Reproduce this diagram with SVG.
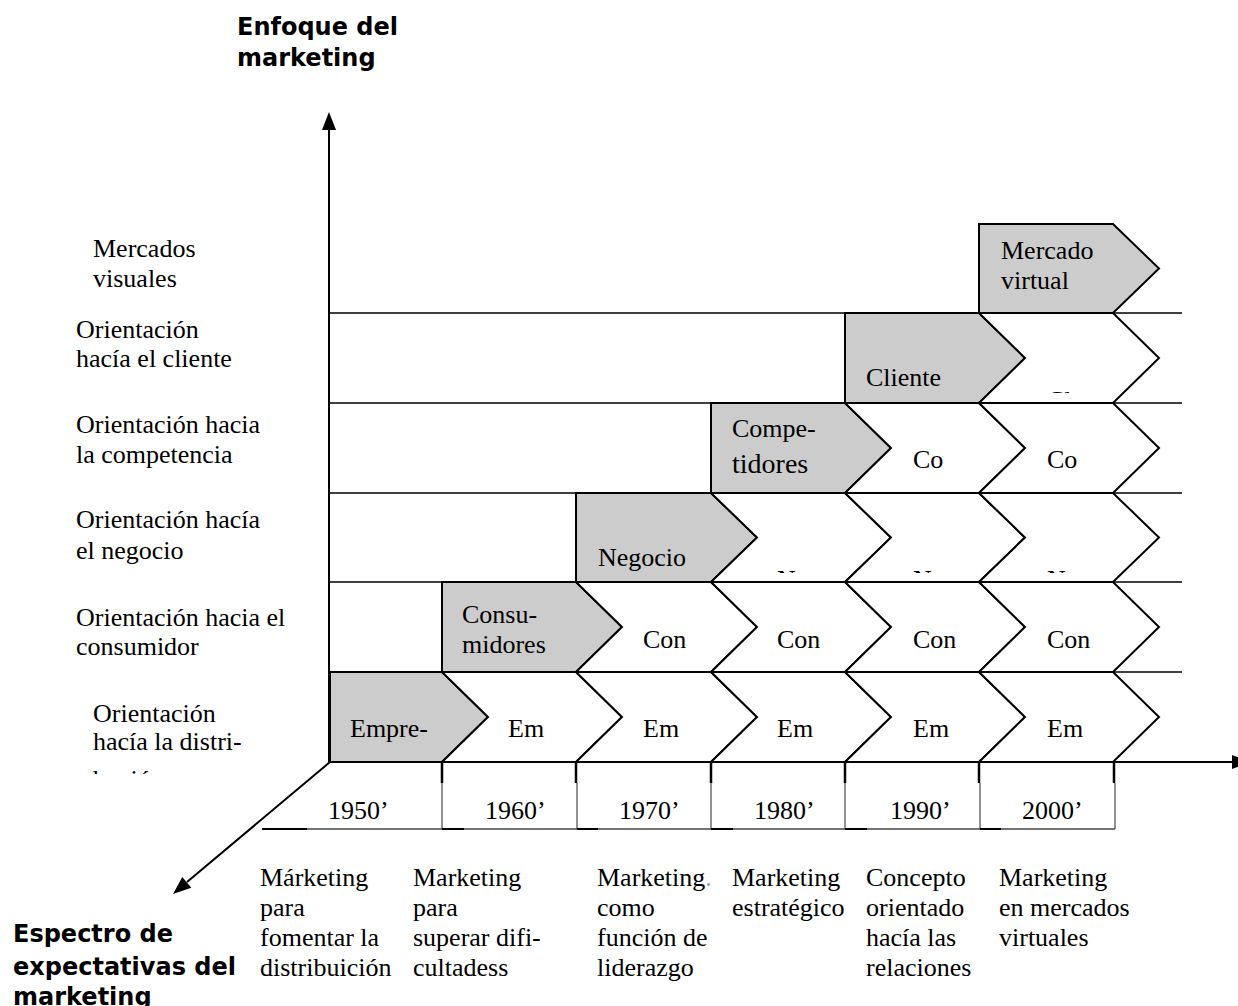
<svg xmlns="http://www.w3.org/2000/svg" width="1238" height="1006" viewBox="0 0 1238 1006">
<style>
.t{font-family:"Liberation Serif","Times New Roman",serif;font-size:26px;fill:#000}
.h{font-family:"DejaVu Sans","Verdana",sans-serif;font-weight:bold;font-size:24px;fill:#000}
.ln{stroke:#000;stroke-width:1.6;fill:none}
.g{fill:#cccccc;stroke:#000;stroke-width:2;stroke-linejoin:miter}
.w{fill:#fff;stroke:#000;stroke-width:2;stroke-linejoin:miter}
.tk{stroke:#000;stroke-width:2.5}
.th{stroke:#222;stroke-width:1}
</style>
<defs>
<clipPath id="cN"><rect x="700" y="493" width="420" height="80"/></clipPath>
<clipPath id="cC"><rect x="980" y="313" width="130" height="80"/></clipPath>
<clipPath id="cB"><rect x="60" y="755" width="200" height="19"/></clipPath>
</defs>
<rect width="1238" height="1006" fill="#fff"/>

<g id="titles">
<text class="h" x="237" y="35">Enfoque del</text>
<text class="h" x="237" y="66">marketing</text>
<text class="h" x="13" y="942">Espectro de</text>
<text class="h" x="13" y="975">expectativas del</text>
<text class="h" x="13" y="1005">marketing</text>
</g>

<g id="row-labels">
<text class="t" x="93" y="257">Mercados</text>
<text class="t" x="93" y="287">visuales</text>
<text class="t" x="76" y="338">Orientación</text>
<text class="t" x="76" y="367">hacía el cliente</text>
<text class="t" x="76" y="433">Orientación hacia</text>
<text class="t" x="76" y="463">la competencia</text>
<text class="t" x="76" y="528">Orientación hacía</text>
<text class="t" x="76" y="559">el negocio</text>
<text class="t" x="76" y="626">Orientación hacia el</text>
<text class="t" x="76" y="655">consumidor</text>
<text class="t" x="93" y="722">Orientación</text>
<text class="t" x="93" y="750">hacía la distri-</text>
<text class="t" x="93" y="788" clip-path="url(#cB)">bución</text>
</g>

<g id="connectors">
<line class="ln" x1="329" y1="313" x2="1182" y2="313"/>
<line class="ln" x1="329" y1="403" x2="1182" y2="403"/>
<line class="ln" x1="329" y1="493" x2="1182" y2="493"/>
<line class="ln" x1="329" y1="582" x2="1182" y2="582"/>
<line class="ln" x1="329" y1="672" x2="1182" y2="672"/>
<line stroke="#000" stroke-width="2" x1="329" y1="762" x2="329" y2="126"/>
<polygon points="329,112 322,130 336,130" fill="#000"/>
<line stroke="#000" stroke-width="2" x1="329" y1="762" x2="1236" y2="762"/>
<polygon points="1250,762 1232,755 1232,769" fill="#000"/>
<line stroke="#000" stroke-width="2" x1="330" y1="762" x2="187" y2="882"/>
<polygon points="173,894 191.3,887.8 182.3,877" fill="#000"/>
</g>

<g id="row-distribucion">
<path class="g" d="M330 672H442L488 717L442 762H330Z"/>
<path class="w" d="M442 672H576L622 717L576 762H442L488 717Z"/>
<path class="w" d="M576 672H711L757 717L711 762H576L622 717Z"/>
<path class="w" d="M711 672H845L891 717L845 762H711L757 717Z"/>
<path class="w" d="M845 672H979L1025 717L979 762H845L891 717Z"/>
<path class="w" d="M979 672H1113L1159 717L1113 762H979L1025 717Z"/>
<text class="t" x="350" y="737">Empre-</text>
<text class="t" x="508" y="737">Em</text>
<text class="t" x="643" y="737">Em</text>
<text class="t" x="777" y="737">Em</text>
<text class="t" x="913" y="737">Em</text>
<text class="t" x="1047" y="737">Em</text>
</g>

<g id="row-consumidor">
<path class="g" d="M442 582H576L622 627L576 672H442Z"/>
<path class="w" d="M576 582H711L757 627L711 672H576L622 627Z"/>
<path class="w" d="M711 582H845L891 627L845 672H711L757 627Z"/>
<path class="w" d="M845 582H979L1025 627L979 672H845L891 627Z"/>
<path class="w" d="M979 582H1113L1159 627L1113 672H979L1025 627Z"/>
<text class="t" x="462" y="623">Consu-</text>
<text class="t" x="462" y="653">midores</text>
<text class="t" x="643" y="648">Con</text>
<text class="t" x="777" y="648">Con</text>
<text class="t" x="913" y="648">Con</text>
<text class="t" x="1047" y="648">Con</text>
</g>

<g id="row-negocio">
<path class="g" d="M576 493H711L757 537.5L711 582H576Z"/>
<path class="w" d="M711 493H845L891 537.5L845 582H711L757 537.5Z"/>
<path class="w" d="M845 493H979L1025 537.5L979 582H845L891 537.5Z"/>
<path class="w" d="M979 493H1113L1159 537.5L1113 582H979L1025 537.5Z"/>
<text class="t" x="598" y="566">Negocio</text>
<g clip-path="url(#cN)">
<text class="t" x="777" y="588">Ne</text>
<text class="t" x="913" y="588">Ne</text>
<text class="t" x="1047" y="588">Ne</text>
</g>
</g>

<g id="row-competencia">
<path class="g" d="M711 403H845L891 448L845 493H711Z"/>
<path class="w" d="M845 403H979L1025 448L979 493H845L891 448Z"/>
<path class="w" d="M979 403H1113L1159 448L1113 493H979L1025 448Z"/>
<text class="t" x="732" y="437">Compe-</text>
<text class="t" x="732" y="473" style="font-size:28px">tidores</text>
<text class="t" x="913" y="468">Co</text>
<text class="t" x="1047" y="468">Co</text>
</g>

<g id="row-cliente">
<path class="g" d="M845 313H979L1025 358L979 403H845Z"/>
<path class="w" d="M979 313H1113L1159 358L1113 403H979L1025 358Z"/>
<text class="t" x="866" y="386">Cliente</text>
<text class="t" x="1047" y="409" clip-path="url(#cC)">Cl</text>
</g>

<g id="row-visuales">
<path class="g" d="M979 224H1113L1159 268.5L1113 313H979Z"/>
<text class="t" x="1001" y="259">Mercado</text>
<text class="t" x="1001" y="289">virtual</text>
</g>

<g id="years">
<line class="tk" x1="442" y1="762" x2="442" y2="783"/>
<line class="tk" x1="576" y1="762" x2="576" y2="783"/>
<line class="tk" x1="711" y1="762" x2="711" y2="783"/>
<line class="tk" x1="845" y1="762" x2="845" y2="783"/>
<line class="tk" x1="979" y1="762" x2="979" y2="783"/>
<line class="tk" x1="1114" y1="762" x2="1114" y2="783"/>
<line class="th" x1="442" y1="783" x2="442" y2="829"/>
<line class="th" x1="577" y1="783" x2="577" y2="829"/>
<line class="th" x1="711" y1="783" x2="711" y2="829"/>
<line class="th" x1="845" y1="783" x2="845" y2="829"/>
<line class="th" x1="980" y1="783" x2="980" y2="829"/>
<line class="th" x1="1115" y1="783" x2="1115" y2="829"/>
<line stroke="#444" stroke-width="1.4" x1="262" y1="829" x2="1115" y2="829"/>
<line stroke="#000" stroke-width="2" x1="262" y1="829" x2="307" y2="829"/>
<line stroke="#000" stroke-width="2" x1="442" y1="829" x2="464" y2="829"/>
<line stroke="#000" stroke-width="2" x1="577" y1="829" x2="598" y2="829"/>
<line stroke="#000" stroke-width="2" x1="711" y1="829" x2="733" y2="829"/>
<line stroke="#000" stroke-width="2" x1="845" y1="829" x2="867" y2="829"/>
<line stroke="#000" stroke-width="2" x1="980" y1="829" x2="1001" y2="829"/>
<text class="t" x="328" y="819">1950’</text>
<text class="t" x="485" y="819">1960’</text>
<text class="t" x="619" y="819">1970’</text>
<text class="t" x="754" y="819">1980’</text>
<text class="t" x="890" y="819">1990’</text>
<text class="t" x="1022" y="819">2000’</text>
</g>

<g id="descriptions">
<text class="t" x="260" y="886">Márketing</text>
<text class="t" x="260" y="916">para</text>
<text class="t" x="260" y="946">fomentar la</text>
<text class="t" x="260" y="976">distribuición</text>
<text class="t" x="413" y="886">Marketing</text>
<text class="t" x="413" y="916">para</text>
<text class="t" x="413" y="946">superar difi-</text>
<text class="t" x="413" y="976">cultadess</text>
<text class="t" x="597" y="886">Marketing<tspan fill="#999">.</tspan></text>
<text class="t" x="597" y="916">como</text>
<text class="t" x="597" y="946">función de</text>
<text class="t" x="597" y="976">liderazgo</text>
<text class="t" x="732" y="886">Marketing</text>
<text class="t" x="732" y="916">estratégico</text>
<text class="t" x="866" y="886">Concepto</text>
<text class="t" x="866" y="916">orientado</text>
<text class="t" x="866" y="946">hacía las</text>
<text class="t" x="866" y="976">relaciones</text>
<text class="t" x="999" y="886">Marketing</text>
<text class="t" x="999" y="916">en mercados</text>
<text class="t" x="999" y="946">virtuales</text>
</g>
</svg>
